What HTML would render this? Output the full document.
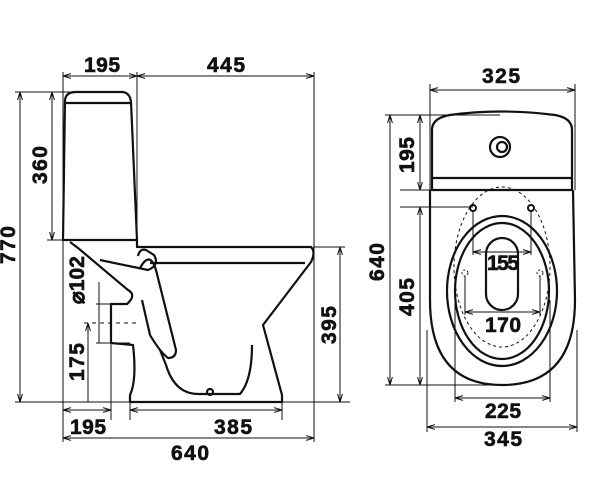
<!DOCTYPE html>
<html><head><meta charset="utf-8"><style>
html,body{margin:0;padding:0;background:#fff;}
svg{display:block}
text{font-family:"Liberation Sans",sans-serif;font-weight:bold;font-size:21px;fill:#111;stroke:#111;stroke-width:0.6;text-anchor:middle}
</style></head><body>
<svg width="600" height="501" viewBox="0 0 600 501" xmlns="http://www.w3.org/2000/svg">
<defs>
<marker id="a" viewBox="0 0 10 10" refX="10" refY="5" markerWidth="8" markerHeight="8" orient="auto-start-reverse"><path d="M0,2 L10,5 L0,8" fill="none" stroke="#111" stroke-width="1.3"/></marker>
</defs>
<g stroke="#111" fill="none" stroke-width="1">
<line x1="63" y1="76" x2="137" y2="76" marker-start="url(#a)" marker-end="url(#a)"/>
<line x1="137" y1="76" x2="314" y2="76" marker-start="url(#a)" marker-end="url(#a)"/>
<line x1="63" y1="72" x2="63" y2="442"/>
<line x1="137" y1="72" x2="137" y2="240"/>
<line x1="314" y1="72" x2="314" y2="442"/>
<line x1="20" y1="92" x2="20" y2="402" marker-start="url(#a)" marker-end="url(#a)"/>
<line x1="52" y1="92" x2="52" y2="240" marker-start="url(#a)" marker-end="url(#a)"/>
<line x1="15" y1="92" x2="70" y2="92"/>
<line x1="47" y1="240" x2="70" y2="240"/>
<line x1="15" y1="402" x2="350" y2="402"/>
<line x1="340" y1="247" x2="340" y2="402" marker-start="url(#a)" marker-end="url(#a)"/>
<line x1="313" y1="247" x2="345" y2="247"/>
<line x1="63" y1="410" x2="111" y2="410" marker-start="url(#a)" marker-end="url(#a)"/>
<line x1="130" y1="410" x2="282" y2="410" marker-start="url(#a)" marker-end="url(#a)"/>
<line x1="63" y1="438" x2="314" y2="438" marker-start="url(#a)" marker-end="url(#a)"/>
<line x1="111" y1="304" x2="111" y2="420"/>
<line x1="130" y1="395" x2="130" y2="420"/>
<line x1="282" y1="395" x2="282" y2="420"/>
<line x1="88" y1="323" x2="88" y2="402" marker-start="url(#a)"/>
<line x1="84" y1="323" x2="137" y2="323" stroke-dasharray="4,4"/>
<line x1="99" y1="282" x2="99" y2="343"/>
<line x1="96" y1="304" x2="111" y2="304"/>
<line x1="96" y1="343" x2="130" y2="343"/>
</g>
<g stroke="#111" fill="none" stroke-width="2.2" stroke-linejoin="round">
<path d="M63,240 L65,100 Q66,92 76,92 L123,92 Q130,93 131,102 L137,240 Z"/>
<line x1="66" y1="103" x2="131" y2="103"/>
<path d="M137,240 L137,247 L311,247 Q316,252 311,262 L263,325 L282,395 L282,402 L130,402 L130,395 Q137,380 133,345 L111,343 L111,304 L127,304 Q137,295 128,290 L78,248 L70,242"/>
<line x1="150" y1="263" x2="305" y2="263"/>
<path d="M100,260 L148,270 Q160,265 154,255 L146,250 Q140,248 138,256"/>
<path d="M140,268 Q150,250 156,270 L176,350 Q176,358 168,358 Q160,352 150,335 L142,300"/>
<path d="M160,350 L166,365 Q175,395 200,394 L240,394 Q252,380 252,345"/>
<circle cx="210" cy="392" r="3"/>
<path d="M432,190 L432,130 Q432,118 450,115 Q500,108 555,115 Q572,118 572,130 L572,190 Z"/>
<path d="M433,178 L571,178"/>
<circle cx="500" cy="147" r="10"/><circle cx="502" cy="147" r="5"/>
<path d="M430,190 L430,300 Q430,385 502,385 Q575,385 575,300 L573,190"/>
<ellipse cx="502" cy="291" rx="55" ry="75"/>
<ellipse cx="502" cy="291" rx="47" ry="68"/>
<rect x="486" y="238" width="32" height="72" rx="16"/>
</g>
<g stroke="#111" fill="none" stroke-width="1">
<ellipse cx="502" cy="267" rx="48" ry="80" stroke-dasharray="3,3"/>
<circle cx="473" cy="208" r="3" stroke-width="2"/><circle cx="531" cy="208" r="3" stroke-width="2"/>
<circle cx="465" cy="273" r="3" stroke-dasharray="2,2"/><circle cx="540" cy="273" r="3" stroke-dasharray="2,2"/>
<line x1="473" y1="211" x2="473" y2="255"/><line x1="531" y1="211" x2="531" y2="255"/>
<line x1="473" y1="252" x2="531" y2="252" marker-start="url(#a)" marker-end="url(#a)"/>
<line x1="465" y1="276" x2="465" y2="315"/><line x1="540" y1="276" x2="540" y2="315"/>
<line x1="465" y1="312" x2="540" y2="312" marker-start="url(#a)" marker-end="url(#a)"/>
<line x1="430" y1="90" x2="575" y2="90" marker-start="url(#a)" marker-end="url(#a)"/>
<line x1="430" y1="84" x2="430" y2="190"/><line x1="575" y1="84" x2="575" y2="190"/>
<line x1="390" y1="115" x2="390" y2="385" marker-start="url(#a)" marker-end="url(#a)"/>
<line x1="420" y1="115" x2="420" y2="190" marker-start="url(#a)" marker-end="url(#a)"/>
<line x1="420" y1="207" x2="420" y2="385" marker-start="url(#a)" marker-end="url(#a)"/>
<line x1="385" y1="115" x2="500" y2="115"/>
<line x1="400" y1="190" x2="432" y2="190"/>
<line x1="400" y1="207" x2="473" y2="207"/>
<line x1="385" y1="385" x2="502" y2="385"/>
<line x1="455" y1="300" x2="455" y2="402"/><line x1="550" y1="300" x2="550" y2="402"/>
<line x1="455" y1="398" x2="550" y2="398" marker-start="url(#a)" marker-end="url(#a)"/>
<line x1="427" y1="330" x2="427" y2="432"/><line x1="577" y1="330" x2="577" y2="432"/>
<line x1="427" y1="427" x2="577" y2="427" marker-start="url(#a)" marker-end="url(#a)"/>
</g>
<text x="102" y="72" textLength="36">195</text>
<text x="226" y="72" textLength="38">445</text>
<text transform="translate(47,165) rotate(-90)" textLength="38">360</text>
<text transform="translate(15,245) rotate(-90)" textLength="38">770</text>
<text transform="translate(84,280) rotate(-90)" textLength="48">⌀102</text>
<text transform="translate(84,362) rotate(-90)" textLength="38">175</text>
<text transform="translate(336,325) rotate(-90)" textLength="38">395</text>
<text x="88" y="434" textLength="36">195</text>
<text x="233" y="434" textLength="38">385</text>
<text x="190" y="460" textLength="38">640</text>
<text x="501" y="83" textLength="38">325</text>
<text transform="translate(384,262) rotate(-90)" textLength="38">640</text>
<text transform="translate(414,155) rotate(-90)" textLength="36">195</text>
<text transform="translate(414,297) rotate(-90)" textLength="38">405</text>
<text x="503" y="270" textLength="32">155</text>
<text x="503" y="332" textLength="36">170</text>
<text x="503" y="418" textLength="36">225</text>
<text x="503" y="446" textLength="38">345</text>
</svg>
</body></html>
